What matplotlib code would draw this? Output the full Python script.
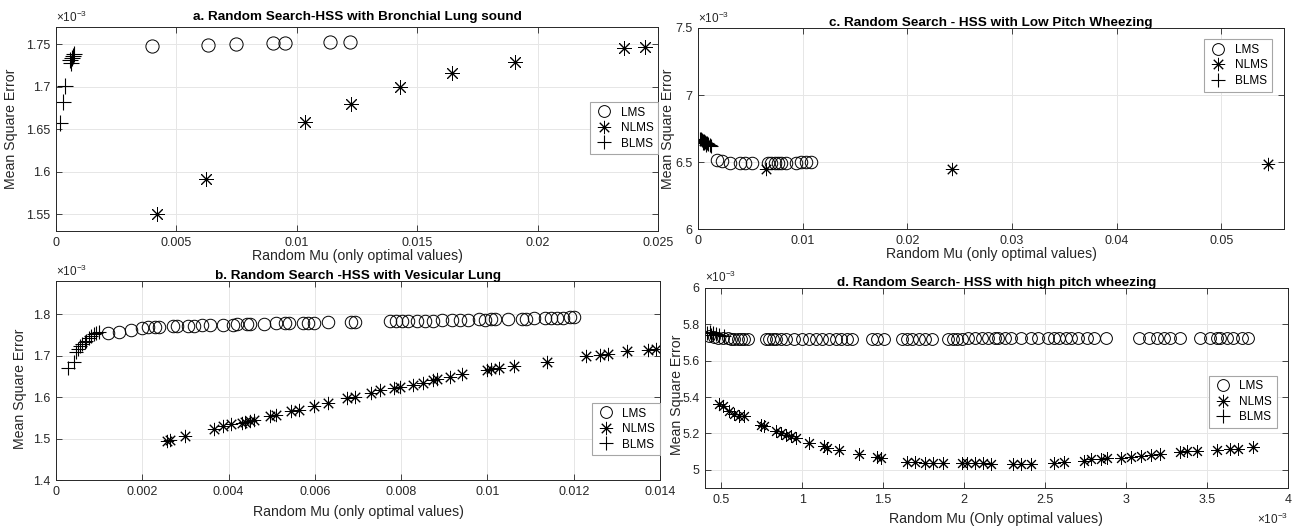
import matplotlib
matplotlib.use("Agg")
import matplotlib.pyplot as plt
from matplotlib.ticker import FuncFormatter
from matplotlib.lines import Line2D

plt.rcParams["font.family"] = ["Liberation Sans", "DejaVu Sans"]
plt.rcParams["mathtext.fontset"] = "custom"
plt.rcParams["mathtext.rm"] = "Liberation Sans"

# ---- data (y values in units of 1e-3) ----
# a. Bronchial lung sound
a_lms_x = [0.00398, 0.0063, 0.00747, 0.00902, 0.0095, 0.01136, 0.01222]
a_lms_y = [1.748, 1.749, 1.750, 1.751, 1.751, 1.752, 1.752]
a_nlms_x = [0.0042, 0.00621, 0.01033, 0.01225, 0.0143, 0.01645, 0.01907, 0.0236, 0.02444]
a_nlms_y = [1.550, 1.5915, 1.658, 1.680, 1.700, 1.716, 1.729, 1.745, 1.747]
a_blms_x = [0.00017, 0.00028, 0.00038, 0.00057, 0.00062, 0.00065, 0.0007, 0.00075]
a_blms_y = [1.657, 1.682, 1.701, 1.731, 1.728, 1.734, 1.736, 1.738]

# b. Vesicular lung
b_lms_x = [0.00121, 0.00147, 0.00174, 0.0020, 0.00214, 0.00229, 0.00238, 0.00272, 0.00281,
           0.00305, 0.0032, 0.00339, 0.00358, 0.00387, 0.0041, 0.0042, 0.00442, 0.00449,
           0.00482, 0.00511, 0.0053, 0.0054, 0.00573, 0.00583, 0.00597, 0.00631, 0.00683,
           0.00693, 0.00774, 0.00789, 0.00803, 0.00817, 0.00836, 0.00856, 0.00875, 0.00894,
           0.00918, 0.00937, 0.00956, 0.0098, 0.00994, 0.01009, 0.01018, 0.01047, 0.0108,
           0.0109, 0.01109, 0.01133, 0.01148, 0.01162, 0.01176, 0.01191, 0.0120]
b_lms_y = [1.7536, 1.758, 1.762, 1.766, 1.768, 1.769, 1.770, 1.771, 1.771,
           1.772, 1.772, 1.773, 1.7736, 1.774, 1.7744, 1.775, 1.776, 1.776,
           1.777, 1.7776, 1.778, 1.778, 1.7792, 1.779, 1.7795, 1.7808, 1.781,
           1.781, 1.7824, 1.783, 1.783, 1.783, 1.7835, 1.784, 1.784, 1.785,
           1.7856, 1.786, 1.786, 1.7872, 1.787, 1.788, 1.788, 1.7888, 1.789,
           1.789, 1.790, 1.790, 1.790, 1.791, 1.791, 1.792, 1.792]
b_nlms_x = [0.00257, 0.00264, 0.0030, 0.00367, 0.00387, 0.00406, 0.0043, 0.00439, 0.00449,
            0.00458, 0.00497, 0.00511, 0.00545, 0.00564, 0.00597, 0.00631, 0.00674, 0.00693,
            0.00731, 0.0075, 0.00784, 0.00798, 0.00827, 0.00851, 0.00875, 0.00884, 0.00913,
            0.00942, 0.00999, 0.01009, 0.01028, 0.01061, 0.01138, 0.01229, 0.01262, 0.0128,
            0.01324, 0.01373, 0.0139]
b_nlms_y = [1.494, 1.496, 1.506, 1.522, 1.530, 1.534, 1.538, 1.541, 1.543,
            1.545, 1.554, 1.557, 1.566, 1.570, 1.578, 1.586, 1.597, 1.601,
            1.611, 1.616, 1.621, 1.625, 1.629, 1.634, 1.640, 1.643, 1.648,
            1.655, 1.665, 1.668, 1.670, 1.674, 1.684, 1.699, 1.701, 1.703,
            1.710, 1.714, 1.717]
b_blms_x = [0.00028, 0.00042, 0.00047, 0.00052, 0.00056, 0.00061, 0.00066, 0.00069,
            0.00076, 0.00082, 0.00088, 0.00092, 0.0010]
b_blms_y = [1.670, 1.684, 1.708, 1.716, 1.722, 1.728, 1.732, 1.736,
            1.742, 1.748, 1.752, 1.7536, 1.756]

# c. Low pitch wheezing
c_lms_x = [0.00182, 0.0023, 0.00308, 0.00403, 0.0045, 0.00513, 0.0067, 0.00701, 0.00733,
           0.00764, 0.00796, 0.00843, 0.00937, 0.00984, 0.01031, 0.01079]
c_lms_y = [6.512, 6.507, 6.495, 6.49, 6.49, 6.49, 6.49, 6.495, 6.495,
           6.495, 6.495, 6.495, 6.495, 6.497, 6.5, 6.5]
c_nlms_x = [0.00648, 0.0243, 0.0545]
c_nlms_y = [6.45, 6.45, 6.4875]
c_blms_x = [0.0002, 0.0003, 0.0004, 0.0005, 0.0005, 0.0006, 0.0006, 0.0007, 0.0008,
            0.0008, 0.0009, 0.0010, 0.0011, 0.0012]
c_blms_y = [6.67, 6.675, 6.665, 6.66, 6.645, 6.655, 6.64, 6.65, 6.645,
            6.63, 6.64, 6.635, 6.63, 6.62]

# d. High pitch wheezing (x values in units of 1e-3)
d_lms_x = [0.428, 0.459, 0.48, 0.51, 0.541, 0.561, 0.582, 0.602, 0.623, 0.643, 0.664,
           0.777, 0.797, 0.818, 0.842, 0.869, 0.9, 0.951, 1.002, 1.043, 1.084, 1.125,
           1.166, 1.207, 1.238, 1.279, 1.309, 1.432, 1.463, 1.504, 1.617, 1.648, 1.678,
           1.719, 1.76, 1.801, 1.904, 1.934, 1.955, 1.986, 2.027, 2.068, 2.109, 2.15,
           2.19, 2.209, 2.25, 2.291, 2.352, 2.414, 2.455, 2.516, 2.557, 2.588, 2.629,
           2.66, 2.701, 2.762, 2.803, 2.875, 3.08, 3.141, 3.193, 3.234, 3.275, 3.336,
           3.459, 3.52, 3.561, 3.582, 3.623, 3.664, 3.715, 3.756]
d_lms_y = [5.736, 5.73, 5.726, 5.724, 5.722, 5.72, 5.72, 5.72, 5.72, 5.72, 5.72,
           5.72, 5.72, 5.72, 5.72, 5.72, 5.72, 5.72, 5.72, 5.72, 5.72, 5.72,
           5.72, 5.72, 5.72, 5.72, 5.72, 5.72, 5.72, 5.72, 5.72, 5.72, 5.72,
           5.72, 5.72, 5.72, 5.72, 5.72, 5.72, 5.72, 5.722, 5.722, 5.722, 5.722,
           5.722, 5.722, 5.722, 5.722, 5.722, 5.722, 5.722, 5.722, 5.722, 5.722, 5.722,
           5.722, 5.722, 5.722, 5.722, 5.722, 5.723, 5.723, 5.723, 5.723, 5.723, 5.723,
           5.725, 5.725, 5.725, 5.725, 5.725, 5.725, 5.725, 5.725]
d_nlms_x = [0.49, 0.51, 0.551, 0.582, 0.613, 0.643, 0.746, 0.766, 0.838, 0.869, 0.9,
            0.93, 0.961, 1.043, 1.135, 1.156, 1.227, 1.35, 1.463, 1.49, 1.648, 1.699,
            1.76, 1.811, 1.873, 1.986, 2.016, 2.068, 2.119, 2.168, 2.301, 2.352, 2.414,
            2.557, 2.619, 2.742, 2.783, 2.844, 2.885, 2.967, 3.029, 3.09, 3.152, 3.213,
            3.336, 3.377, 3.439, 3.561, 3.643, 3.695, 3.787]
d_nlms_y = [5.36, 5.351, 5.323, 5.308, 5.294, 5.294, 5.247, 5.238, 5.211, 5.2, 5.192,
            5.187, 5.177, 5.145, 5.132, 5.121, 5.108, 5.089, 5.07, 5.064, 5.045, 5.045,
            5.04, 5.036, 5.036, 5.036, 5.036, 5.036, 5.036, 5.034, 5.034, 5.034, 5.034,
            5.04, 5.045, 5.051, 5.057, 5.06, 5.064, 5.066, 5.07, 5.074, 5.079, 5.085,
            5.098, 5.102, 5.104, 5.111, 5.113, 5.117, 5.126]
d_blms_x = [0.41, 0.43, 0.44, 0.45, 0.47, 0.49, 0.52]
d_blms_y = [5.75, 5.755, 5.74, 5.75, 5.745, 5.74, 5.738]

TXT = "#262626"
ASTER = (8, 2, 0)


def gfmt(v, _pos):
    return f"{v:g}"


def style(ax, xlim, ylim, xticks, yticks):
    ax.set_xlim(*xlim)
    ax.set_ylim(*ylim)
    ax.set_xticks(xticks)
    ax.set_yticks(yticks)
    ax.xaxis.set_major_formatter(FuncFormatter(gfmt))
    ax.yaxis.set_major_formatter(FuncFormatter(gfmt))
    ax.tick_params(direction="in", top=True, right=True, length=4, width=0.6,
                   colors=TXT, labelsize=9, pad=4)
    ax.grid(True, color="#e6e6e6", linewidth=0.7)
    ax.set_axisbelow(True)
    for s in ax.spines.values():
        s.set_color(TXT)
        s.set_linewidth(0.7)
    ax.text(0, 1.012, r"$\times10^{-3}$", transform=ax.transAxes, fontsize=8.5,
            color=TXT, ha="left", va="bottom")


def draw(ax, lx, ly, nx, ny, bx, by, cs, ns, bs):
    ax.plot(lx, ly, linestyle="none", marker="o", ms=cs, mfc="none", mec="black", mew=0.7)
    ax.plot(nx, ny, linestyle="none", marker=ASTER, ms=ns, mec="black", mew=0.7)
    ax.plot(bx, by, linestyle="none", marker="+", ms=bs, mec="black", mew=0.8)


def legend(ax, loc, anchor):
    hs = [Line2D([], [], ls="none", marker="o", ms=8.5, mfc="none", mec="black", mew=0.7),
          Line2D([], [], ls="none", marker=ASTER, ms=9.5, mec="black", mew=0.7),
          Line2D([], [], ls="none", marker="+", ms=10.5, mec="black", mew=0.8)]
    leg = ax.legend(hs, ["LMS", "NLMS", "BLMS"], loc=loc, bbox_to_anchor=anchor,
                    borderaxespad=0, fontsize=8.5, fancybox=False, framealpha=1,
                    edgecolor="#a6a6a6", handlelength=1.6, handletextpad=0.6,
                    labelspacing=0.3, borderpad=0.4)
    leg.get_frame().set_linewidth(0.8)


def labels(ax, title, xlabel, tpad, xpad, ylx, yly):
    ax.set_title(title, fontsize=9.7, fontweight="bold", pad=tpad)
    ax.set_xlabel(xlabel, fontsize=10.2, color=TXT, labelpad=xpad)
    ax.set_ylabel("Mean Square Error", fontsize=10.2, color=TXT)
    ax.yaxis.set_label_coords(ylx, yly)


fig = plt.figure(figsize=(13.03, 5.28), dpi=100)
ax_a = fig.add_axes([0.043, 0.5625, 0.462, 0.386])
ax_c = fig.add_axes([0.5357, 0.566, 0.4497, 0.381])
ax_b = fig.add_axes([0.043, 0.0909, 0.4635, 0.377])
ax_d = fig.add_axes([0.541, 0.0758, 0.4474, 0.379])

# a
draw(ax_a, a_lms_x, a_lms_y, a_nlms_x, a_nlms_y, a_blms_x, a_blms_y, 9.5, 10.5, 11)
style(ax_a, (0, 0.025), (1.53, 1.77), [0, 0.005, 0.01, 0.015, 0.02, 0.025],
      [1.55, 1.6, 1.65, 1.7, 1.75])
labels(ax_a, "a. Random Search-HSS with Bronchial Lung sound",
       "Random Mu (only optimal values)", 5, 0, -0.063, 0.5)
legend(ax_a, "center right", (1.0, 0.505))

# b
draw(ax_b, b_lms_x, b_lms_y, b_nlms_x, b_nlms_y, b_blms_x, b_blms_y, 9, 9.5, 10)
style(ax_b, (0, 0.014), (1.4, 1.88), [0, 0.002, 0.004, 0.006, 0.008, 0.01, 0.012, 0.014],
      [1.4, 1.5, 1.6, 1.7, 1.8])
labels(ax_b, "b. Random Search -HSS with Vesicular Lung",
       "Random Mu (only optimal values)", 1.5, 5, -0.048, 0.46)
legend(ax_b, "center right", (1.0, 0.256))

# c
draw(ax_c, c_lms_x, c_lms_y, c_nlms_x, c_nlms_y, c_blms_x, c_blms_y, 9, 9.5, 10)
style(ax_c, (0, 0.056), (6.0, 7.5), [0, 0.01, 0.02, 0.03, 0.04, 0.05],
      [6, 6.5, 7, 7.5])
labels(ax_c, "c. Random Search - HSS with Low Pitch Wheezing",
       "Random Mu (only optimal values)", 1.5, 0, -0.039, 0.5)
legend(ax_c, "upper right", (0.98, 0.945))

# d
draw(ax_d, d_lms_x, d_lms_y, d_nlms_x, d_nlms_y, d_blms_x, d_blms_y, 8.5, 9, 9.5)
style(ax_d, (0.4, 4.0), (4.9, 6.0), [0.5, 1, 1.5, 2, 2.5, 3, 3.5, 4],
      [5, 5.2, 5.4, 5.6, 5.8, 6])
labels(ax_d, "d. Random Search- HSS with high pitch wheezing",
       "Random Mu (Only optimal values)", 1.5, 5, -0.036, 0.465)
ax_d.text(1.0, -0.195, r"$\times10^{-3}$", transform=ax_d.transAxes, fontsize=8.5,
          color=TXT, ha="right", va="bottom")
legend(ax_d, "center right", (0.981, 0.43))

fig.savefig("out.png", dpi=100)
